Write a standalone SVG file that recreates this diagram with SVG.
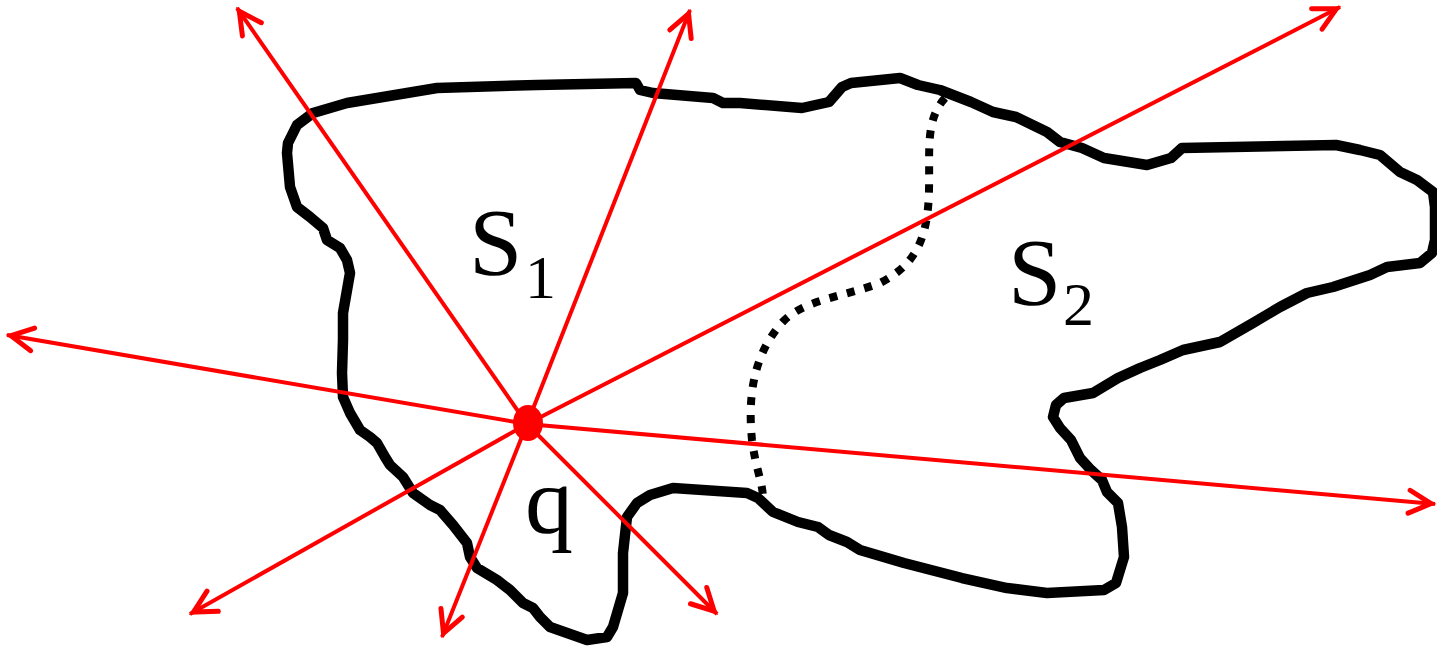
<svg xmlns="http://www.w3.org/2000/svg" width="1437" height="647" viewBox="0 0 1437 647">
<style>
.outline{fill:none;stroke:#000;stroke-width:10.5;stroke-linejoin:round;stroke-linecap:round}
.divider{fill:none;stroke:#000;stroke-width:8;stroke-dasharray:8 10}
.ray{fill:none;stroke:#f00;stroke-width:4;marker-end:url(#ah)}
.lbl{fill:#000}
.big{font-size:96px}
.sub{font-size:62px}
</style>
<defs>
<marker id="ah" markerUnits="userSpaceOnUse" viewBox="-34 -18 40 36" refX="0" refY="0" markerWidth="40" markerHeight="36" orient="auto" overflow="visible">
<path d="M -26 -11.5 L -4 0 L -26 11.5" fill="none" stroke="#f00" stroke-width="5" stroke-linecap="round" stroke-linejoin="miter"/>
</marker>
</defs>
<g id="region">
<polygon class="outline" points="297,125 313,113 347,103 437,88 537,85 636,83 640,90 653,93 713,98 723,103 740,103 802,108 829,102 842,87 851,83 900,78 918,85 940,90 971,102 982,107 993,112 1016,117 1047,132 1060,142 1082,148 1104,158 1147,165 1171,158 1182,148 1336,145 1360,150 1380,155 1400,172 1417,180 1433,192 1435,207 1435,240 1432,253 1420,263 1387,267 1370,275 1333,287 1307,293 1280,307 1253,323 1220,342 1183,350 1160,360 1140,368 1118,378 1093,393 1064,398 1056,405 1053,417 1060,428 1071,440 1080,458 1091,470 1102,480 1107,492 1118,503 1122,527 1124,557 1116,583 1104,590 1047,593 1007,588 962,578 904,563 860,550 847,542 829,535 818,527 798,522 773,512 758,498 747,493 673,488 650,495 637,503 627,517 623,553 623,593 613,627 607,637 587,640 550,627 540,617 533,608 523,603 510,590 497,580 477,568 470,557 467,543 453,525 440,510 430,505 413,493 403,477 390,465 385,457 377,443 370,437 360,430 350,413 343,397 342,373 343,340 343,313 350,273 347,260 340,248 327,240 323,228 310,217 297,207 290,187 287,153 288,143"/>
<path class="divider" d="M 945 98 C 925 120, 930 150, 929 190 C 928 240, 915 265, 880 283 C 840 298, 800 300, 780 325 C 752 358, 748 400, 752 440 C 756 470, 762 480, 763 497"/>
</g>
<g id="connectors">
<line class="ray" x1="527" y1="424" x2="237" y2="8"/>
<line class="ray" x1="527" y1="424" x2="690" y2="10"/>
<line class="ray" x1="527" y1="424" x2="1340" y2="7"/>
<line class="ray" x1="527" y1="424" x2="7" y2="335"/>
<line class="ray" x1="527" y1="424" x2="1435" y2="504"/>
<line class="ray" x1="527" y1="424" x2="190" y2="614"/>
<line class="ray" x1="527" y1="424" x2="442" y2="637"/>
<line class="ray" x1="527" y1="424" x2="717" y2="614"/>
</g>
<g id="q">
<ellipse cx="528" cy="423" rx="15" ry="18" fill="#f00"/>
<text class="lbl big" font-family="Liberation Serif, DejaVu Serif, serif" x="525" y="533">q</text>
</g>
<g id="S1">
<text class="lbl big" font-family="Liberation Serif, DejaVu Serif, serif" x="469" y="275">S</text>
<text class="lbl sub" font-family="Liberation Serif, DejaVu Serif, serif" x="525" y="298">1</text>
</g>
<g id="S2">
<text class="lbl big" font-family="Liberation Serif, DejaVu Serif, serif" x="1008" y="305">S</text>
<text class="lbl sub" font-family="Liberation Serif, DejaVu Serif, serif" x="1063" y="325">2</text>
</g>
</svg>
